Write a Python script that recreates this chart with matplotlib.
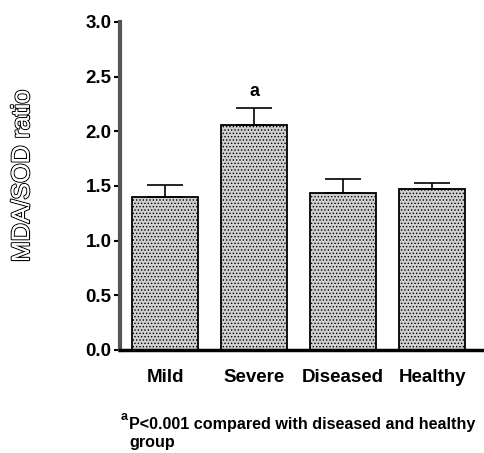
import numpy as np
import matplotlib
matplotlib.use("Agg")
import matplotlib.pyplot as plt
import matplotlib.patheffects as pe

# Daten
groups = ["Mild", "Severe", "Diseased", "Healthy"]
ratio = [1.40, 2.06, 1.44, 1.47]
ratio_err = [0.11, 0.15, 0.12, 0.06]
yticks = [0.0, 0.5, 1.0, 1.5, 2.0, 2.5, 3.0]

plt.rcParams['font.family'] = ['Liberation Sans', 'DejaVu Sans']
plt.rcParams['hatch.color'] = '#6e6e6e'
plt.rcParams['hatch.linewidth'] = 0.6

fig = plt.figure(figsize=(4.85, 4.53), dpi=100)
ax = fig.add_axes([120 / 485, 1 - 350 / 453, 363 / 485, 328 / 453])

x = np.arange(len(groups))
ax.bar(x, ratio, width=0.74, color='#d0d0d0', edgecolor='black',
       linewidth=1.3, hatch='.....', zorder=2)
ax.errorbar(x, ratio, yerr=[np.zeros(len(ratio)), ratio_err], fmt='none',
            ecolor='black', elinewidth=1.2, capsize=13, capthick=1.2, zorder=3)

# Signifikanz-Markierung
ax.text(x[1], 2.29, "a", ha='center', va='bottom', fontsize=13, fontweight='bold')

ax.set_xlim(-0.506, 3.57)
ax.set_ylim(0, 3.0)
ax.set_yticks(yticks)
ax.set_yticklabels([f"{v:.1f}" for v in yticks], fontsize=13.5, fontweight='bold')
ax.set_xticks(x)
ax.set_xticklabels(groups, fontsize=13.5, fontweight='bold')
ax.tick_params(axis='x', length=0, pad=14)
ax.tick_params(axis='y', length=4, width=1.5, pad=2)

ax.spines['top'].set_visible(False)
ax.spines['right'].set_visible(False)
ax.spines['left'].set_color('#555555')
ax.spines['left'].set_linewidth(3)
ax.spines['bottom'].set_linewidth(2.5)

ylab = fig.text(22 / 485, 1 - 176 / 453, "MDA/SOD ratio", rotation=90,
                ha='center', va='center', fontsize=18, color='white')
ylab.set_path_effects([pe.withStroke(linewidth=1.6, foreground='black'), pe.Normal()])

# Fussnote
fig.text(121 / 485, 1 - 420 / 453, "a", fontsize=9, fontweight='bold', va='baseline')
fig.text(129 / 485, 1 - 429 / 453, "P<0.001 compared with diseased and healthy",
         fontsize=11.6, fontweight='bold', va='baseline')
fig.text(129 / 485, 1 - 447 / 453, "group", fontsize=11.6, fontweight='bold', va='baseline')

plt.savefig("out.png", dpi=100)
